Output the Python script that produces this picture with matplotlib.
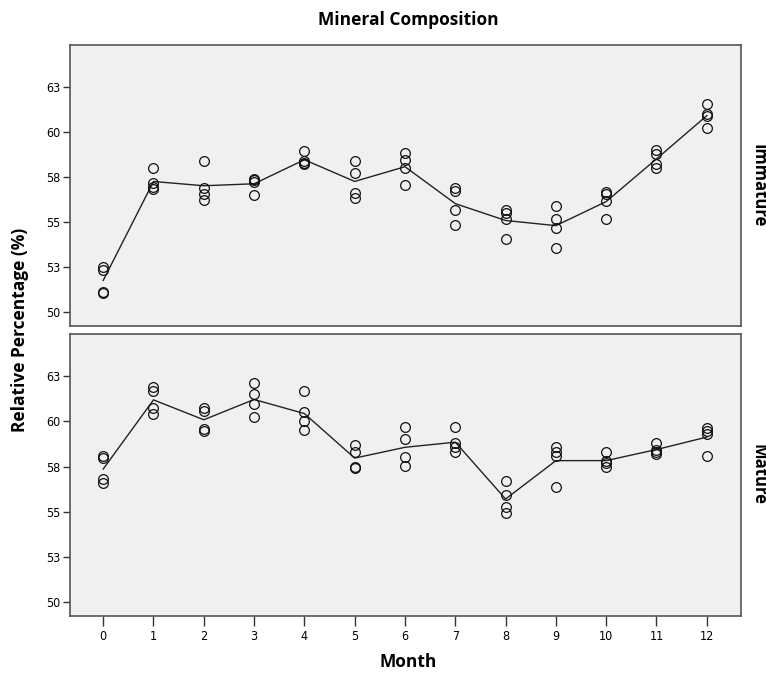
import matplotlib
matplotlib.use("Agg")
import matplotlib.pyplot as plt
import numpy as np

# Monthly measurements (4 replicates per month)
months = list(range(13))
immature = [
    [52.50, 52.32, 51.11, 51.02],
    [58.02, 57.17, 56.94, 56.85],
    [58.39, 56.86, 56.54, 56.24],
    [57.41, 57.32, 57.22, 56.52],
    [58.94, 58.39, 58.28, 58.21],
    [58.39, 57.69, 56.61, 56.30],
    [58.83, 58.43, 57.97, 57.04],
    [56.86, 56.72, 55.65, 54.82],
    [55.65, 55.50, 55.13, 54.02],
    [55.87, 55.13, 54.63, 53.52],
    [56.67, 56.54, 56.17, 55.13],
    [58.98, 58.80, 58.21, 58.02],
    [61.54, 60.98, 60.87, 60.24],
]
mature = [
    [58.09, 57.97, 56.80, 56.58],
    [61.91, 61.72, 60.74, 60.43],
    [60.74, 60.56, 59.58, 59.50],
    [62.13, 61.54, 60.98, 60.24],
    [61.72, 60.50, 60.00, 59.54],
    [58.71, 58.28, 57.47, 57.41],
    [59.69, 59.02, 58.02, 57.54],
    [59.72, 58.80, 58.61, 58.28],
    [56.67, 55.93, 55.28, 54.91],
    [58.61, 58.28, 58.06, 56.36],
    [58.33, 57.83, 57.69, 57.47],
    [58.80, 58.43, 58.33, 58.21],
    [59.63, 59.50, 59.32, 58.09],
]
panels = ["Immature", "Mature"]
y_ticks = [50, 52.5, 55, 57.5, 60, 62.5]
y_tick_labels = ["50", "53", "55", "58", "60", "63"]

W, H = 766, 675
fig = plt.figure(figsize=(W / 100, H / 100), dpi=100)

def frac_box(left, top, right, bottom):
    return [left / W, 1 - bottom / H, (right - left) / W, (bottom - top) / H]

ax_top = fig.add_axes(frac_box(70, 45, 741, 325.7))
ax_bot = fig.add_axes(frac_box(70, 334.3, 741, 615.7))

tick_font = dict(family="DejaVu Sans", stretch="condensed", size=9)
bold_font = ["Open Sans", "DejaVu Sans"]

for ax, data, name in [(ax_top, immature, panels[0]), (ax_bot, mature, panels[1])]:
    ax.set_facecolor("#f0f0f0")
    arr = np.array(data)
    for m, vals in zip(months, arr):
        ax.plot([m] * len(vals), vals, linestyle="none", marker="o",
                markersize=7, markerfacecolor="none", markeredgecolor="#111111",
                markeredgewidth=0.9, zorder=3)
    ax.plot(months, arr.mean(axis=1), color="#222222", linewidth=1.0, zorder=2)
    ax.set_xlim(-0.66, 12.68)
    ax.set_ylim(49.22, 64.84)
    ax.set_yticks(y_ticks)
    ax.set_yticklabels(y_tick_labels, **tick_font)
    for s in ax.spines.values():
        s.set_color("#555555")
        s.set_linewidth(1.2)
    ax.tick_params(axis="y", direction="out", length=5, width=1, color="#333333", pad=2)
    ax.text(1.012, 0.5, name, transform=ax.transAxes, rotation=-90,
            ha="left", va="center", fontsize=12, fontweight="bold", family=bold_font)

ax_top.set_xticks([])
ax_bot.set_xticks(months)
ax_bot.set_xticklabels([str(m) for m in months], **tick_font)
ax_bot.tick_params(axis="x", direction="out", length=7, width=1, color="#333333", pad=3)

fig.text(408 / W, 1 - 20 / H, "Mineral Composition", ha="center", va="center",
         fontsize=12.5, fontweight="bold", family=bold_font)
fig.text(408 / W, 1 - 662 / H, "Month", ha="center", va="center",
         fontsize=12.5, fontweight="bold", family=bold_font)
fig.text(20 / W, 1 - 330 / H, "Relative Percentage (%)", ha="center", va="center",
         rotation=90, fontsize=12.5, fontweight="bold", family=bold_font)

fig.savefig("out.png", dpi=100, facecolor="white")
